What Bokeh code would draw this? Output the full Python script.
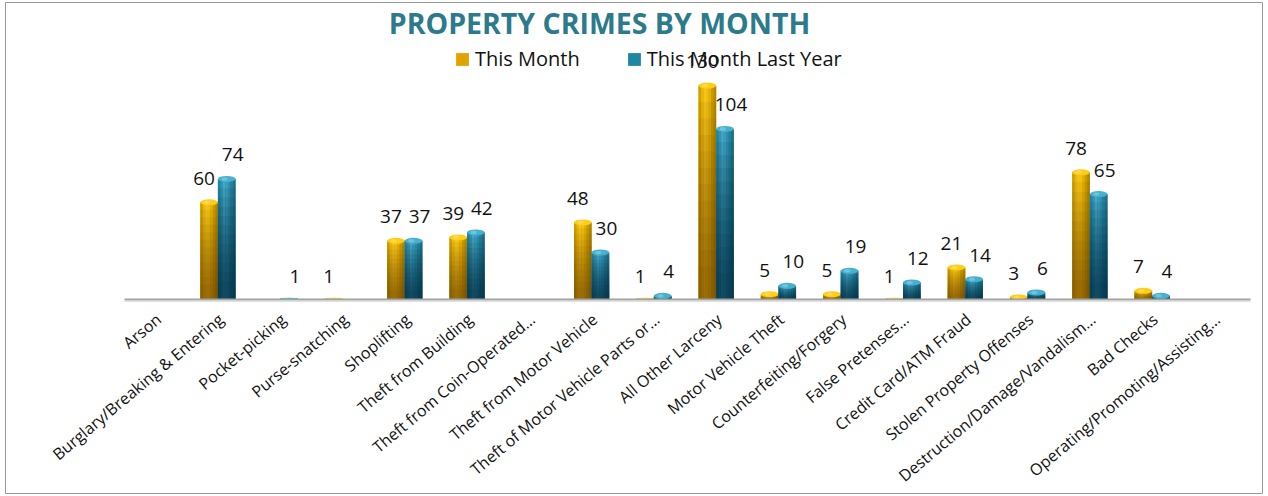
import numpy as np
from bokeh.plotting import figure
from bokeh.models import Range1d, ColumnDataSource, Label, Legend, LegendItem
from bokeh.core.properties import value
from bokeh.embed import file_html
from bokeh.resources import INLINE

# ---------------- data ----------------
categories = [
    "Arson", "Burglary/Breaking & Entering", "Pocket-picking", "Purse-snatching",
    "Shoplifting", "Theft from Building", "Theft from Coin-Operated\u2026",
    "Theft from Motor Vehicle", "Theft of Motor Vehicle Parts or\u2026",
    "All Other Larceny", "Motor Vehicle Theft", "Counterfeiting/Forgery",
    "False Pretenses\u2026", "Credit Card/ATM Fraud", "Stolen Property Offenses",
    "Destruction/Damage/Vandalism\u2026", "Bad Checks", "Operating/Promoting/Assisting\u2026",
]
this_month = [0, 60, 0, 1, 37, 39, 0, 48, 1, 130, 5, 5, 1, 21, 3, 78, 7, 0]
last_year = [0, 74, 1, 0, 37, 42, 0, 30, 4, 104, 10, 19, 12, 14, 6, 65, 4, 0]
series_names = ["This Month", "This Month Last Year"]
title_text = "PROPERTY CRIMES BY MONTH"

# ---------------- layout constants (pixels) ----------------
W_FIG, H_FIG = 1264, 494
FRAME_L, FRAME_T, FRAME_R, FRAME_B = 5, 2, 1262, 494
CAT_PX = 62.28          # pixel width of one category
X0_PX = 124             # left edge of first category
AXIS_PX = 299           # axis line
PX_PER_UNIT = 1.669     # vertical pixels per count

def fx(px):
    return (px - X0_PX) / CAT_PX

def fy(py):
    return (AXIS_PX - py) / PX_PER_UNIT

p = figure(width=W_FIG, height=H_FIG, output_backend="svg", toolbar_location=None,
           x_range=Range1d(fx(FRAME_L), fx(FRAME_R)), y_range=Range1d(fy(FRAME_B), fy(FRAME_T)),
           min_border=0, min_border_left=FRAME_L, min_border_right=W_FIG - FRAME_R,
           min_border_top=FRAME_T, min_border_bottom=H_FIG - FRAME_B)
p.xaxis.visible = False
p.yaxis.visible = False
p.grid.visible = False
p.outline_line_color = "#9a9a9a"
p.outline_line_width = 1
p.background_fill_color = "white"
p.border_fill_color = "white"

n = len(categories)
centers = np.arange(n) + 0.5
BAR_W = 17.6 / CAT_PX
offsets = [-BAR_W / 2, BAR_W / 2]

top_colors = [(255, 200, 0), (52, 168, 202)]
legend_colors = ["#e0a400", "#1f86a4"]
bottom_tint = [((92, 52, 0), 0.60), ((0, 40, 55), 0.72)]
stripe_mult = [0.84, 0.97, 1.07, 1.03, 0.94, 0.82, 0.72]
S = len(stripe_mult)
L = 12
CAP_PX = 3.0

def shade(c, m):
    if m >= 1:
        return "#%02x%02x%02x" % tuple(int(round(v + (255 - v) * (m - 1) * 2.2)) for v in c)
    return "#%02x%02x%02x" % tuple(int(round(v * m)) for v in c)

def rgb(c):
    return "#%02x%02x%02x" % c

font = value("Open Sans")
legend_renderers = []

for si, vals in enumerate([this_month, last_year]):
    vals = np.array(vals, dtype=float)
    mask = vals > 0
    xs = centers[mask] + offsets[si]
    vs = vals[mask]
    r = np.minimum(CAP_PX / PX_PER_UNIT, vs / 2)
    body_top = vs - r
    # base body (also the legend's glyph)
    base = p.quad(left=xs - BAR_W / 2, right=xs + BAR_W / 2, bottom=0, top=body_top,
                  fill_color=legend_colors[si], line_color="#505050", line_alpha=0.0)
    legend_renderers.append(base)
    sw = BAR_W / S
    for s, m in enumerate(stripe_mult):
        sx = xs - BAR_W / 2 + (s + 0.5) * sw
        p.vbar(x=sx, width=sw * 1.02, bottom=0, top=body_top,
               fill_color=shade(top_colors[si], m), line_color=None)
    tint, total = bottom_tint[si]
    a = 1 - (1 - total) ** (1 / L)
    for k in range(1, L + 1):
        frac = 1 - k / (L + 1)
        p.vbar(x=xs, width=BAR_W, bottom=0, top=body_top * frac + body_top / (L + 1),
               fill_color=rgb(tint), fill_alpha=a, line_color=None)
    p.ellipse(x=xs, y=body_top, width=BAR_W, height=2 * r,
              fill_color=shade(top_colors[si], 1.04), line_color=None)
    p.ellipse(x=xs - BAR_W * 0.12, y=body_top, width=BAR_W * 0.35, height=1.2 * r,
              fill_color=shade(top_colors[si], 1.2), fill_alpha=0.6, line_color=None)
    lab = ColumnDataSource(dict(x=xs + (-5 if si == 0 else 6) / CAT_PX,
                                y=vs + 21 / PX_PER_UNIT,
                                t=[str(int(v)) for v in vs]))
    p.text(x="x", y="y", text="t", source=lab, text_font=font, text_font_size="19px",
           text_color="#111111", text_align="center", text_baseline="middle")

# axis line
p.segment(x0=[0], y0=[0], x1=[n + 0.08], y1=[0], line_color="#a2a2a2", line_width=2)
p.segment(x0=[0], y0=[-1.6 / PX_PER_UNIT], x1=[n + 0.08], y1=[-1.6 / PX_PER_UNIT],
          line_color="#d4d4d4", line_width=1.5)

# category labels
cat_src = ColumnDataSource(dict(x=centers - 4 / CAT_PX,
                                y=np.full(n, -9 / PX_PER_UNIT), t=categories))
p.text(x="x", y="y", text="t", source=cat_src, angle=0.698, text_font=font,
       text_font_size="16px", text_color="#111111", text_align="right",
       text_baseline="top")

# title
p.add_layout(Label(x=fx(599), y=fy(22), text=title_text, text_font="Open Sans",
                   text_font_style="bold", text_font_size="28.5px", text_color="#2C7A8B",
                   text_align="center", text_baseline="middle"))

# legend
legend = Legend(items=[LegendItem(label=series_names[i], renderers=[legend_renderers[i]])
                       for i in range(2)],
                orientation="horizontal", location=(449, 422),
                glyph_width=16, glyph_height=16, label_standoff=5, spacing=46,
                padding=0, margin=0, border_line_color=None, background_fill_alpha=0,
                label_text_font="Open Sans", label_text_font_size="20px",
                label_text_color="#111111")
p.add_layout(legend, "center")

open("out.html", "w").write(file_html(p, INLINE))
